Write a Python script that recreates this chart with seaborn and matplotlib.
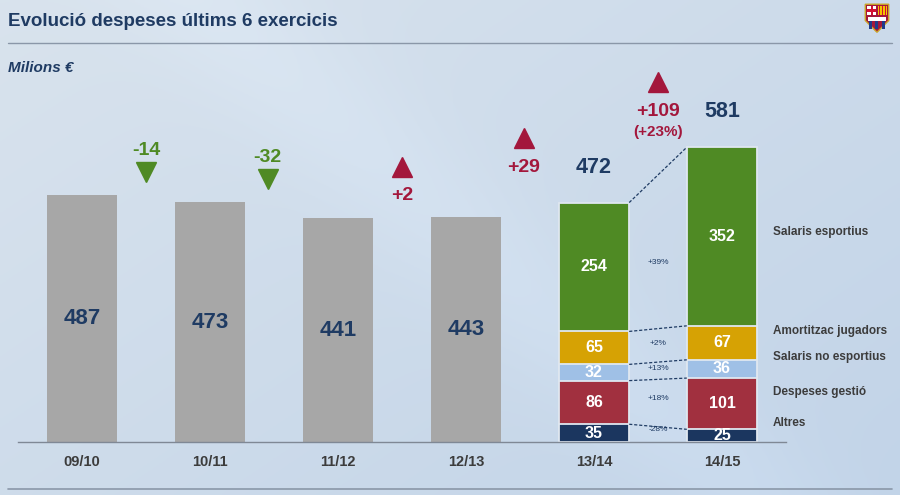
import numpy as np
import pandas as pd
import seaborn as sns
import matplotlib.pyplot as plt
from matplotlib.patches import Polygon, Rectangle

sns.set_style('white')
plt.rcParams['font.family'] = ['Liberation Sans', 'DejaVu Sans']

# data
seasons = ['09/10', '10/11', '11/12', '12/13', '13/14', '14/15']
totals = [487, 473, 441, 443, 472, 581]
deltas = ['-14', '-32', '+2', '+29', '+109']
delta_pct = '(+23%)'

parts = ['Altres', 'Despeses gestió', 'Salaris no esportius',
         'Amortitzac jugadors', 'Salaris esportius']
parts_1314 = [35, 86, 32, 65, 254]
parts_1415 = [25, 101, 36, 67, 352]
part_changes = ['-28%', '+18%', '+13%', '+2%', '+39%']
part_colors = ['#1b365f', '#a1303f', '#9fc0e6', '#d6a204', '#4f8a24']

navy = '#1f3b63'
green = '#4f8a24'
red = '#a3173c'
gray_txt = '#3c3c3c'

fig = plt.figure(figsize=(9, 4.95), dpi=100)

# background gradient
bg = fig.add_axes([0, 0, 1, 1], zorder=-10)
xx, yy = np.meshgrid(np.linspace(0, 1, 300), np.linspace(0, 1, 200))
grad = 0.55 * xx + 0.45 * yy
streak = np.exp(-((xx * 0.9 - yy * 0.55 - 0.2) ** 2) / 0.01) * 0.25
c1 = np.array([0.85, 0.89, 0.93])
c2 = np.array([0.76, 0.83, 0.91])
img = c1[None, None, :] * (1 - grad[..., None]) + c2[None, None, :] * grad[..., None]
img = np.clip(img + streak[..., None] * 0.08, 0, 1)
bg.imshow(img, aspect='auto', extent=[0, 1, 0, 1], origin='upper')
bg.set_axis_off()

# header
fig.text(8 / 900, 1 - 22 / 495, 'Evolució despeses últims 6 exercicis',
         fontsize=13.5, fontweight='bold', color=navy, va='center')
fig.add_artist(plt.Line2D([8 / 900, 892 / 900], [1 - 43 / 495] * 2,
                          color='#8a97a8', lw=1))
fig.text(8 / 900, 1 - 68 / 495, 'Milions €', fontsize=11,
         fontweight='bold', style='italic', color=navy, va='center')
fig.add_artist(plt.Line2D([8 / 900, 892 / 900], [1 - 489 / 495] * 2,
                          color='#8a97a8', lw=1.2))

# small crest
lg = fig.add_axes([864 / 900, 1 - 33 / 495, 26 / 900, 30 / 495])
lg.set_xlim(0, 10)
lg.set_ylim(0, 12)
lg.set_axis_off()
lg.add_patch(Polygon([[0.5, 11.5], [9.5, 11.5], [9.5, 5], [5, 0.3], [0.5, 5]],
                     closed=True, fc='#a3173c', ec='#c9a227', lw=1))
lg.add_patch(Rectangle((1.2, 7.3), 3.6, 3.6, fc='white', ec='none'))
lg.add_patch(Rectangle((2.5, 7.3), 1.0, 3.6, fc='#d21034', ec='none'))
lg.add_patch(Rectangle((1.2, 8.6), 3.6, 1.0, fc='#d21034', ec='none'))
lg.add_patch(Rectangle((5.2, 7.3), 3.6, 3.6, fc='#f2c500', ec='none'))
for k in range(3):
    lg.add_patch(Rectangle((5.6 + k * 1.2, 7.3), 0.5, 3.6, fc='#d21034', ec='none'))
lg.add_patch(Rectangle((1.5, 4.8), 7, 1.5, fc='white', ec='none'))
for k in range(3):
    lg.add_patch(Rectangle((2.0 + k * 2.4, 1.5), 1.1, 3.2, fc='#1f3b8a', ec='none'))

# main axes
ax = fig.add_axes([18 / 900, 53 / 495, 768 / 900, 382 / 495])
ax.patch.set_alpha(0)

df_tot = pd.DataFrame({'season': seasons[:4], 'total': totals[:4]})
sns.barplot(data=df_tot, x='season', y='total', order=seasons, color='#a7a7a7',
            width=0.55, saturation=1, ax=ax, edgecolor='none', linewidth=0,
            zorder=2)

stack_rows = []
for s, vals in [('13/14', parts_1314), ('14/15', parts_1415)]:
    cum = np.cumsum(vals)
    for p, c in zip(parts, cum):
        stack_rows.append({'season': s, 'part': p, 'cum': c})
df_stack = pd.DataFrame(stack_rows)

# draw cumulative heights, top layer first
for p, col in reversed(list(zip(parts, part_colors))):
    sub = df_stack[df_stack['part'] == p]
    sns.barplot(data=sub, x='season', y='cum', order=seasons, color=col,
                width=0.55, saturation=1, ax=ax, edgecolor='#dfe7f0',
                linewidth=1.3, zorder=2)

ax.set_xlim(-0.5, 5.5)
ax.set_ylim(0, 753)
ax.set_xlabel('')
ax.set_ylabel('')
ax.set_yticks([])
for side in ['top', 'right', 'left']:
    ax.spines[side].set_visible(False)
ax.spines['bottom'].set_color('#7f8895')
ax.spines['bottom'].set_linewidth(1)
ax.set_xticks(range(6))
ax.set_xticklabels(seasons, fontsize=10.5, fontweight='bold', color=gray_txt)
ax.tick_params(axis='x', length=0, pad=9)
ax.set_xticks(np.arange(-0.5, 6, 1), minor=True)
ax.tick_params(axis='x', which='minor', length=4, direction='inout',
               color='#7f8895')

# value labels on gray bars
for i in range(4):
    ax.text(i, totals[i] / 2, str(totals[i]), ha='center', va='center',
            fontsize=16, fontweight='bold', color=navy, zorder=5)

# stacked segment labels
for i, vals in [(4, parts_1314), (5, parts_1415)]:
    cum = np.cumsum(vals)
    for v, c in zip(vals, cum):
        ax.text(i, c - v / 2, str(v), ha='center', va='center',
                fontsize=11.5, fontweight='bold', color='white', zorder=5)
    ax.text(i, totals[i] + 70, str(totals[i]), ha='center', va='center',
            fontsize=15.5, fontweight='bold', color=navy)

# dashed connectors between segment boundaries
hw = 0.55 / 2
for c0, c1 in zip(np.cumsum(parts_1314), np.cumsum(parts_1415)):
    ax.plot([4 + hw, 5 - hw], [c0, c1], ls=(0, (2.5, 1.5)), lw=0.9,
            color=navy, zorder=4)

# change percentages between stacked bars
mids = np.cumsum(parts_1314) - np.array(parts_1314) / 2
for m, t in zip(mids, part_changes):
    ax.text(4.5, m + 8, t, ha='center', va='center', fontsize=6, color=navy)

# legend labels on the right
mids15 = np.cumsum(parts_1415) - np.array(parts_1415) / 2
for k, (m, p) in enumerate(zip(mids15, parts)):
    off = 9 if k == 4 else 24
    ax.text(5.40, m + off, p, ha='left', va='center', fontsize=8.5,
            fontweight='bold', color=gray_txt, clip_on=False)

# year over year changes
delta_x = [0.5, 1.45, 2.5, 3.45, 4.5]
for j, (dx, d) in enumerate(zip(delta_x, deltas)):
    up = d.startswith('+')
    col = red if up else green
    hi = max(totals[j], totals[j + 1])
    if up:
        tri_y = hi + 100 if j < 3 else hi + 128
        ax.plot(dx, tri_y, marker='^', ms=15, color=col, mec=col, zorder=5)
        ax.text(dx, tri_y - 58, d, ha='center', va='center', fontsize=14,
                fontweight='bold', color=col)
    else:
        tri_y = hi + 45
        ax.plot(dx, tri_y, marker='v', ms=15, color=col, mec=col, zorder=5)
        ax.text(dx, tri_y + 42, d, ha='center', va='center', fontsize=14,
                fontweight='bold', color=col)
ax.text(4.5, hi + 30, delta_pct, ha='center', va='center', fontsize=11,
        fontweight='bold', color=red)

fig.savefig('out.png', dpi=100)
